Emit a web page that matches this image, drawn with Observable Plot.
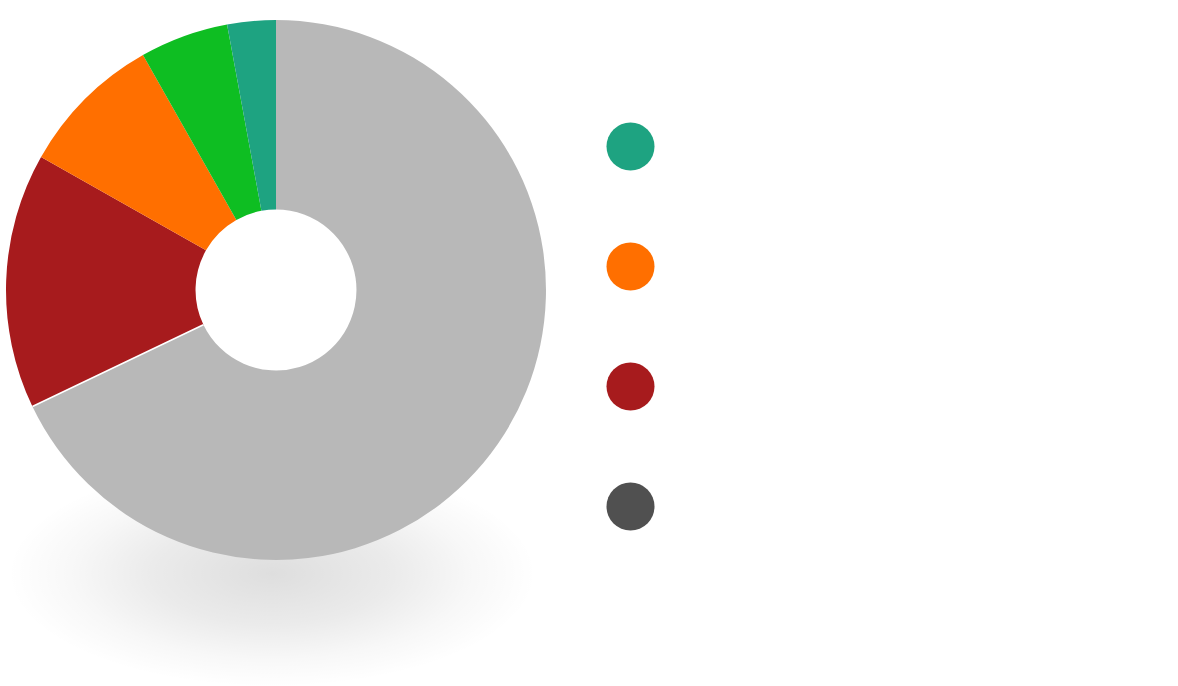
<!DOCTYPE html>
<html><head><meta charset="utf-8">
<script src="https://cdn.jsdelivr.net/npm/d3@7"></script>
<script src="https://cdn.jsdelivr.net/npm/@observablehq/plot@0.6"></script>
<style>
html,body{margin:0;padding:0;background:#fff;}
#chart{display:flex;width:1178px;height:686px;overflow:hidden;}
#chart svg{display:block;}
</style>
</head><body><div id="chart"></div>
<script>
// ---- data ----
const sliceNames  = ["Gray", "Red", "Orange", "Green", "Teal"];
const sliceValues = [67.9, 15.3, 8.6, 5.3, 2.9];
const sliceColors = ["#b8b8b8", "#a71b1d", "#ff6f00", "#0ebe22", "#1ea381"];
const legendNames  = ["Teal", "Orange", "Red", "Dark"];
const legendColors = ["#1ea381", "#ff6f00", "#a71b1d", "#505050"];

// ---- style ----
const innerRatio = 0.298;

const sliceData = sliceNames.map((name, i) => ({name, value: sliceValues[i], color: sliceColors[i]}));
const arcs = d3.pie().sort(null).value(d => d.value)(sliceData);

function donutMark(index, scales, values, dims, context) {
  const cx = scales.x(0), cy = scales.y(0);
  const R = scales.x(1) - cx;
  const g = d3.create("svg:g");
  const defs = g.append("defs");
  const rg = defs.append("radialGradient").attr("id", "shadowGrad");
  rg.append("stop").attr("offset", "0%").attr("stop-color", "#000").attr("stop-opacity", 0.13);
  rg.append("stop").attr("offset", "45%").attr("stop-color", "#000").attr("stop-opacity", 0.08);
  rg.append("stop").attr("offset", "75%").attr("stop-color", "#000").attr("stop-opacity", 0.03);
  rg.append("stop").attr("offset", "100%").attr("stop-color", "#000").attr("stop-opacity", 0);
  const lg = defs.append("linearGradient").attr("id", "grayGrad")
    .attr("gradientUnits", "userSpaceOnUse")
    .attr("x1", 0).attr("x2", 0).attr("y1", cy + R * 0.6).attr("y2", cy + R);
  lg.append("stop").attr("offset", "0%").attr("stop-color", "#b8b8b8");
  lg.append("stop").attr("offset", "100%").attr("stop-color", "#a3a3a3");

  g.append("ellipse")
    .attr("cx", cx - 4).attr("cy", cy + R * 1.05)
    .attr("rx", R * 0.98).attr("ry", R * 0.42)
    .attr("fill", "url(#shadowGrad)");

  const arc = d3.arc().innerRadius(R * innerRatio).outerRadius(R);
  g.append("g").attr("transform", `translate(${cx},${cy})`)
    .selectAll("path").data(arcs).join("path")
    .attr("d", arc)
    .attr("fill", (d, i) => i === 0 ? "url(#grayGrad)" : d.data.color);
  // thin white separator at the start of the red slice
  g.append("path")
    .attr("transform", `translate(${cx},${cy})`)
    .attr("d", arc({startAngle: arcs[1].startAngle, endAngle: arcs[1].startAngle}))
    .attr("stroke", "#fff").attr("stroke-width", 1.5).attr("fill", "none");
  return g.node();
}

const donut = Plot.plot({
  width: 580, height: 686,
  margin: 0,
  x: {domain: [-1, 1], range: [6, 546], axis: null},
  y: {domain: [-1, 1], range: [560, 20], axis: null},
  marks: [donutMark]
});

const legend = Plot.plot({
  width: 598, height: 686,
  marginLeft: 50, marginRight: 0, marginTop: 0, marginBottom: 0,
  y: {type: "point", domain: legendNames, range: [146, 506], padding: 0, axis: null},
  color: {domain: legendNames, range: legendColors},
  marks: [
    Plot.dot(legendNames, {y: d => d, fill: d => d, r: 24, frameAnchor: "left", stroke: null})
  ]
});

document.getElementById("chart").append(donut, legend);
</script>
</body></html>
